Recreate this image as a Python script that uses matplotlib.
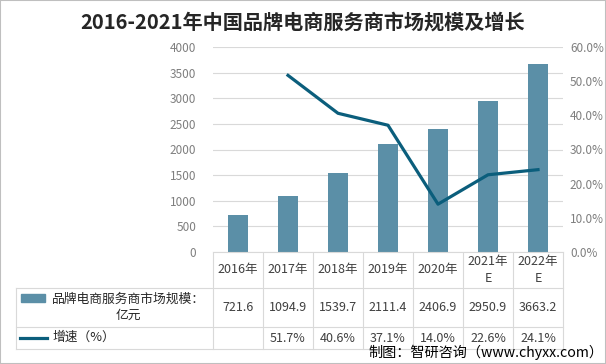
import matplotlib
matplotlib.use("Agg")
import matplotlib.pyplot as plt
import matplotlib.transforms as mtransforms
from matplotlib.patches import Rectangle
from matplotlib.lines import Line2D

plt.rcParams['font.family'] = ['Noto Sans CJK SC', 'DejaVu Sans']

# data
years = ["2016年", "2017年", "2018年", "2019年", "2020年", "2021年\nE", "2022年\nE"]
scale = [721.6, 1094.9, 1539.7, 2111.4, 2406.9, 2950.9, 3663.2]
growth = [None, 51.7, 40.6, 37.1, 14.0, 22.6, 24.1]
scale_label = "品牌电商服务商市场规模：\n亿元"
growth_label = "增速（%）"
title = "2016-2021年中国品牌电商服务商市场规模及增长"
source = "制图：智研咨询（www.chyxx.com）"

bar_color = "#5B8FA7"
line_color = "#0B5E7C"
grid_color = "#D9D9D9"
text_color = "#404040"
tick_color = "#7F7F7F"

W, H = 606, 364
fig = plt.figure(figsize=(W / 100, H / 100), dpi=100)

# main chart area (pixels: x 213-563, y 47-252)
ax = fig.add_axes([213 / W, 1 - 252 / H, 350 / W, 205 / H])
x = list(range(len(years)))
ax.bar(x, scale, width=0.39, color=bar_color, zorder=2)
ax.set_xlim(-0.5, len(years) - 0.5)
ax.set_ylim(0, 4000)
ax.set_yticks(range(0, 4001, 500))
ax.yaxis.grid(True, color=grid_color, linewidth=0.8, zorder=0)
ax.set_xticks([])
ax.tick_params(axis='y', length=0, pad=12, labelsize=8.5, labelcolor=tick_color)
for s in ["left", "right", "top"]:
    ax.spines[s].set_visible(False)
ax.spines["bottom"].set_color(grid_color)

ax2 = ax.twinx()
gx = [i for i, g in zip(x, growth) if g is not None]
gy = [g for g in growth if g is not None]
ax2.plot(gx, gy, color=line_color, linewidth=2.3, zorder=3)
ax2.set_ylim(0, 60)
ax2.set_yticks(range(0, 61, 10))
ax2.set_yticklabels([f"{v:.1f}%" for v in range(0, 61, 10)])
ax2.tick_params(axis='y', length=0, pad=5, labelsize=8.5, labelcolor=tick_color)
for s in ["left", "right", "top", "bottom"]:
    ax2.spines[s].set_visible(False)

# table below the chart, drawn in pixel coordinates
tab = fig.add_axes([0, 0, 1, 1], zorder=-1)
tab.set_xlim(0, W)
tab.set_ylim(H, 0)
tab.axis("off")
trans = mtransforms.blended_transform_factory(ax.transData, tab.transData)

row_top, row1, row2, row_bot = 252, 288, 327, 349
left_edge = 16
for yy in (row1, row2, row_bot):
    tab.plot([left_edge, 563], [yy, yy], color=grid_color, linewidth=0.8)
tab.plot([left_edge, left_edge], [row1, row_bot], color=grid_color, linewidth=0.8)
for i in range(len(years) + 1):
    tab.plot([i - 0.5, i - 0.5], [row_top, row_bot], color=grid_color,
             linewidth=0.8, transform=trans)

for i, yr in enumerate(years):
    tab.text(i, (row_top + row1) / 2, yr, transform=trans, ha="center", va="center",
             fontsize=9, color=text_color, linespacing=1.3)
    tab.text(i, (row1 + row2) / 2, f"{scale[i]:.1f}", transform=trans, ha="center",
             va="center", fontsize=9, color=text_color)
    if growth[i] is not None:
        tab.text(i, (row2 + row_bot) / 2, f"{growth[i]:.1f}%", transform=trans,
                 ha="center", va="center", fontsize=9, color=text_color)

# legend keys in the table
tab.add_patch(Rectangle((21, 294), 24, 8, color=bar_color))
tab.text(128, (row1 + row2) / 2, scale_label, ha="center", va="center",
         fontsize=9.2, color="#262626", linespacing=1.3)
tab.add_line(Line2D([20, 47], [338, 338], color=line_color, linewidth=2.3))
tab.text(52, 337, growth_label, ha="left", va="center", fontsize=9.2, color="#262626")

# title and source
fig.text(0.5, 1 - 22 / H, title, ha="center", va="center", fontsize=14.5,
         fontweight="bold", color="#262626")
fig.text(603 / W, 1 - 352 / H, source, ha="right", va="center", fontsize=10.2,
         color="black")

# outer frame
fig.add_artist(Rectangle((0, 0), 1, 1, transform=fig.transFigure, fill=False,
                         edgecolor="#BFBFBF", linewidth=1.5))

fig.savefig("out.png", dpi=100)
